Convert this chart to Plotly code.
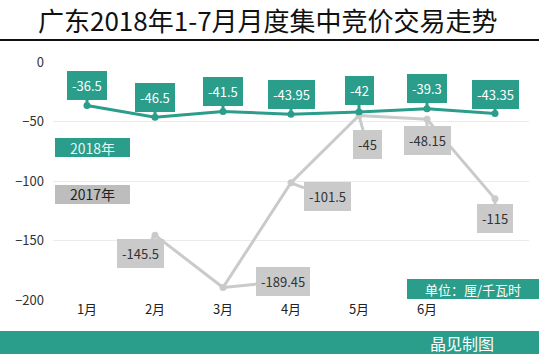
import plotly.graph_objects as go

months = ["1月", "2月", "3月", "4月", "5月", "6月", ""]
y2018 = [-36.5, -46.5, -41.5, -43.95, -42, -39.3, -43.35]
y2017 = [None, -145.5, -189.45, -101.5, -45, -48.15, -115]
labels2018 = ["-36.5", "-46.5", "-41.5", "-43.95", "-42", "-39.3", "-43.35"]
labels2017 = [None, "-145.5", "-189.45", "-101.5", "-45", "-48.15", "-115"]

TEAL = "#2A9D8B"
GRAY = "#CACACA"
FONT = "Noto Sans CJK SC"

W, H = 539, 354
ML, MR, MT, MB = 53, 10, 62, 54
PW, PH = W - ML - MR, H - MT - MB

def px(x):
    return (x - ML) / PW

def py(y):
    return (H - MB - y) / PH

x = list(range(len(months)))

fig = go.Figure()
fig.add_trace(go.Scatter(x=x, y=y2017, mode="lines+markers",
                         line=dict(color=GRAY, width=3),
                         marker=dict(color=GRAY, size=7), connectgaps=False,
                         hoverinfo="skip"))
fig.add_trace(go.Scatter(x=x, y=y2018, mode="lines+markers",
                         line=dict(color=TEAL, width=3),
                         marker=dict(color=TEAL, size=7),
                         hoverinfo="skip"))

ann = []
off2018 = [(0, -20), (0, -20), (0, -20), (0, -20), (0, -21), (0, -20), (0, -19)]
for i, (v, t) in enumerate(zip(y2018, labels2018)):
    ax, ay = off2018[i]
    ann.append(dict(x=i, y=v, xref="x", yref="y", text=t, showarrow=True,
                    ax=ax, ay=ay, arrowhead=0, arrowwidth=3, arrowcolor=TEAL,
                    standoff=0, bgcolor=TEAL, bordercolor=TEAL, borderpad=4,
                    font=dict(family=FONT, size=13, color="white")))
off2017 = [None, (-15, 18), (60, -6), (36, 14), (8, 29), (0, 21), (0, 20)]
for i, (v, t) in enumerate(zip(y2017, labels2017)):
    if v is None:
        continue
    ax, ay = off2017[i]
    ann.append(dict(x=i, y=v, xref="x", yref="y", text=t, showarrow=True,
                    ax=ax, ay=ay, arrowhead=0, arrowwidth=3, arrowcolor=GRAY,
                    standoff=0, bgcolor=GRAY, bordercolor=GRAY, borderpad=4,
                    font=dict(family=FONT, size=13, color="#333333")))

ann.append(dict(x=px(268), y=py(20), xref="paper", yref="paper", showarrow=False,
                text="广东2018年1-7月月度集中竞价交易走势",
                font=dict(family=FONT, size=26, color="#111111"),
                xanchor="center", yanchor="middle"))
ann.append(dict(x=px(92), y=py(147.5), xref="paper", yref="paper", showarrow=False,
                text="2018年", font=dict(family=FONT, size=14, color="#E8F5F2"),
                xanchor="center", yanchor="middle"))
ann.append(dict(x=px(92), y=py(194), xref="paper", yref="paper", showarrow=False,
                text="2017年", font=dict(family=FONT, size=14, color="#222222"),
                xanchor="center", yanchor="middle"))
ann.append(dict(x=px(473), y=py(289), xref="paper", yref="paper", showarrow=False,
                text="单位：厘/千瓦时", font=dict(family=FONT, size=13, color="white"),
                xanchor="center", yanchor="middle"))
ann.append(dict(x=px(462), y=py(343), xref="paper", yref="paper", showarrow=False,
                text="晶见制图", font=dict(family=FONT, size=16, color="white"),
                xanchor="center", yanchor="middle"))

shapes = [
    dict(type="line", xref="paper", yref="paper", x0=px(0), x1=px(W), y0=py(40), y1=py(40),
         line=dict(color="#111111", width=2), layer="below"),
    dict(type="rect", xref="paper", yref="paper", x0=px(0), x1=px(W), y0=py(331), y1=py(H + 2),
         fillcolor=TEAL, line=dict(width=0), layer="below"),
    dict(type="rect", xref="paper", yref="paper", x0=px(55), x1=px(130), y0=py(138), y1=py(157),
         fillcolor=TEAL, line=dict(width=0), layer="below"),
    dict(type="rect", xref="paper", yref="paper", x0=px(55), x1=px(130), y0=py(185), y1=py(204),
         fillcolor="#BDBDBD", line=dict(width=0), layer="below"),
    dict(type="rect", xref="paper", yref="paper", x0=px(407), x1=px(W + 2), y0=py(279), y1=py(299),
         fillcolor=TEAL, line=dict(width=0), layer="below"),
]

fig.update_layout(
    width=W, height=H, margin=dict(l=ML, r=MR, t=MT, b=MB),
    paper_bgcolor="white", plot_bgcolor="white", showlegend=False,
    font=dict(family=FONT, size=13, color="#333333"),
    annotations=ann, shapes=shapes,
    xaxis=dict(range=[-0.5, 6.5], tickvals=x, ticktext=months, showgrid=False,
               zeroline=False, showline=False, ticks="", fixedrange=True,
               tickfont=dict(family=FONT, size=13, color="#222222")),
    yaxis=dict(range=[-200, 0], dtick=50, showgrid=True, gridcolor="#EBEBEB",
               gridwidth=1, zeroline=False, showline=False, ticks="",
               ticklabelstandoff=8,
               tickfont=dict(family=FONT, size=13, color="#333333")),
)

fig.write_html("out.html", config={"displayModeBar": False})
